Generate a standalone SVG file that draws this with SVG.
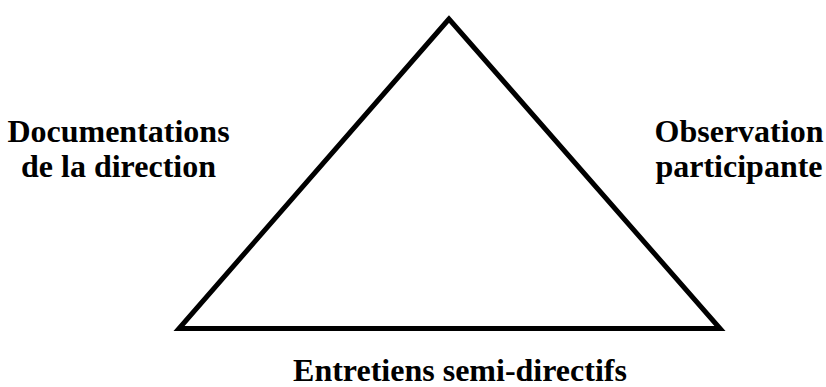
<svg xmlns="http://www.w3.org/2000/svg" width="826" height="387" viewBox="0 0 826 387">
<style>
.lbl{font-family:"Liberation Serif","Times New Roman",serif;font-weight:bold;font-size:32px;fill:#000;text-anchor:middle}
.tri{fill:none;stroke:#000;stroke-width:5;stroke-linejoin:miter;stroke-miterlimit:10}
</style>
<rect width="826" height="387" fill="#fff"/>
<g id="triangle"><polygon class="tri" points="449,19 179,328.5 720,328.5"/></g>
<g id="documentations"><text class="lbl" x="118.5" y="142">Documentations</text><text class="lbl" x="118.5" y="177">de la direction</text></g>
<g id="observation"><text class="lbl" x="739" y="142">Observation</text><text class="lbl" x="739" y="177">participante</text></g>
<g id="entretiens"><text class="lbl" x="460" y="381">Entretiens semi-directifs</text></g>
</svg>
